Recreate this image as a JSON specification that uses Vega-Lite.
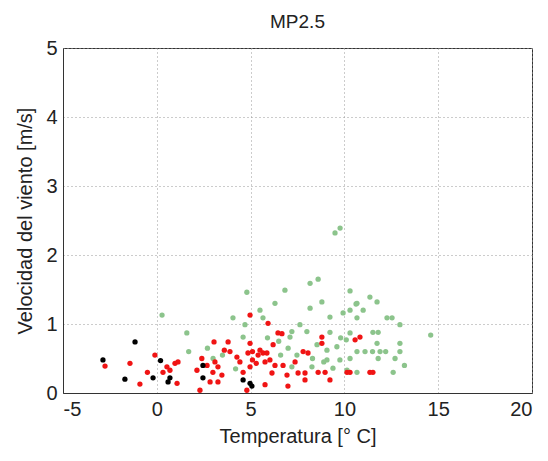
{
  "$schema": "https://vega.github.io/schema/vega-lite/v6.json",
  "width": 469,
  "height": 345,
  "autosize": "none",
  "padding": {"left": 63, "top": 48, "right": 16, "bottom": 68},
  "background": "white",
  "title": {"text": "MP2.5", "font": "Liberation Sans", "fontSize": 19, "fontWeight": "normal", "color": "#222", "offset": 6},
  "config": {
    "view": {"stroke": "#333", "strokeWidth": 1},
    "axis": {
      "labelFont": "Liberation Sans", "labelFontSize": 20, "labelColor": "#222",
      "titleFont": "Liberation Sans", "titleFontSize": 20, "titleFontWeight": "normal", "titleColor": "#222",
      "domainColor": "#333", "tickColor": "#333", "tickSize": 0,
      "gridColor": "#999", "gridDash": [1, 3], "gridWidth": 1
    }
  },
  "data": {"values": [
    {"x": 0.28, "y": 1.13, "g": "verde"}, {"x": 4.06, "y": 1.09, "g": "verde"}, {"x": 1.6, "y": 0.87, "g": "verde"},
    {"x": 4.7, "y": 0.99, "g": "verde"}, {"x": 1.7, "y": 0.6, "g": "verde"}, {"x": 4.6, "y": 0.81, "g": "verde"},
    {"x": 6.3, "y": 1.3, "g": "verde"}, {"x": 8.17, "y": 1.23, "g": "verde"}, {"x": 8.8, "y": 1.32, "g": "verde"},
    {"x": 5.5, "y": 1.2, "g": "verde"}, {"x": 9.23, "y": 1.1, "g": "verde"}, {"x": 9.93, "y": 1.16, "g": "verde"},
    {"x": 5.66, "y": 1.09, "g": "verde"}, {"x": 7.63, "y": 0.99, "g": "verde"}, {"x": 8.0, "y": 0.89, "g": "verde"},
    {"x": 7.2, "y": 0.89, "g": "verde"}, {"x": 7.1, "y": 0.81, "g": "verde"}, {"x": 9.23, "y": 0.88, "g": "verde"},
    {"x": 9.8, "y": 0.8, "g": "verde"}, {"x": 8.54, "y": 0.7, "g": "verde"}, {"x": 9.07, "y": 0.62, "g": "verde"},
    {"x": 9.6, "y": 0.67, "g": "verde"}, {"x": 10.1, "y": 0.77, "g": "verde"}, {"x": 7.47, "y": 0.55, "g": "verde"},
    {"x": 8.3, "y": 0.5, "g": "verde"}, {"x": 9.07, "y": 0.48, "g": "verde"}, {"x": 9.76, "y": 0.48, "g": "verde"},
    {"x": 7.2, "y": 0.38, "g": "verde"}, {"x": 8.27, "y": 0.38, "g": "verde"}, {"x": 9.39, "y": 0.36, "g": "verde"},
    {"x": 10.14, "y": 0.33, "g": "verde"}, {"x": 10.67, "y": 1.3, "g": "verde"}, {"x": 11.74, "y": 1.32, "g": "verde"},
    {"x": 10.3, "y": 1.2, "g": "verde"}, {"x": 11.0, "y": 1.2, "g": "verde"}, {"x": 10.67, "y": 1.09, "g": "verde"},
    {"x": 12.27, "y": 1.09, "g": "verde"}, {"x": 12.54, "y": 1.09, "g": "verde"}, {"x": 12.96, "y": 0.99, "g": "verde"},
    {"x": 14.6, "y": 0.84, "g": "verde"}, {"x": 11.52, "y": 0.88, "g": "verde"}, {"x": 11.8, "y": 0.88, "g": "verde"},
    {"x": 10.3, "y": 0.87, "g": "verde"}, {"x": 11.74, "y": 0.72, "g": "verde"}, {"x": 12.96, "y": 0.72, "g": "verde"},
    {"x": 10.67, "y": 0.6, "g": "verde"}, {"x": 11.1, "y": 0.6, "g": "verde"}, {"x": 11.5, "y": 0.6, "g": "verde"},
    {"x": 11.9, "y": 0.6, "g": "verde"}, {"x": 12.2, "y": 0.6, "g": "verde"}, {"x": 12.96, "y": 0.6, "g": "verde"},
    {"x": 10.3, "y": 0.5, "g": "verde"}, {"x": 11.8, "y": 0.5, "g": "verde"}, {"x": 12.7, "y": 0.5, "g": "verde"},
    {"x": 13.2, "y": 0.4, "g": "verde"}, {"x": 10.67, "y": 0.3, "g": "verde"}, {"x": 12.6, "y": 0.3, "g": "verde"},
    {"x": 9.5, "y": 2.32, "g": "verde"}, {"x": 9.77, "y": 2.39, "g": "verde"}, {"x": 8.17, "y": 1.59, "g": "verde"},
    {"x": 8.6, "y": 1.65, "g": "verde"}, {"x": 4.8, "y": 1.46, "g": "verde"}, {"x": 6.83, "y": 1.49, "g": "verde"},
    {"x": 10.3, "y": 1.48, "g": "verde"}, {"x": 11.36, "y": 1.39, "g": "verde"}, {"x": 10.62, "y": 1.29, "g": "verde"},
    {"x": 6.5, "y": 0.75, "g": "verde"}, {"x": 7.0, "y": 0.65, "g": "verde"}, {"x": 6.6, "y": 0.55, "g": "verde"},
    {"x": 5.9, "y": 0.8, "g": "verde"}, {"x": 8.9, "y": 0.45, "g": "verde"}, {"x": 3.0, "y": 0.5, "g": "verde"},
    {"x": 3.5, "y": 0.55, "g": "verde"}, {"x": 2.7, "y": 0.65, "g": "verde"}, {"x": 4.2, "y": 0.35, "g": "verde"},
    {"x": -2.76, "y": 0.39, "g": "rojo"}, {"x": -1.43, "y": 0.43, "g": "rojo"}, {"x": -0.9, "y": 0.13, "g": "rojo"},
    {"x": -0.1, "y": 0.55, "g": "rojo"}, {"x": -0.5, "y": 0.3, "g": "rojo"}, {"x": 0.33, "y": 0.3, "g": "rojo"},
    {"x": 0.54, "y": 0.38, "g": "rojo"}, {"x": 0.7, "y": 0.33, "g": "rojo"}, {"x": 0.97, "y": 0.43, "g": "rojo"},
    {"x": 1.13, "y": 0.45, "g": "rojo"}, {"x": 1.08, "y": 0.14, "g": "rojo"}, {"x": 2.4, "y": 0.5, "g": "rojo"},
    {"x": 2.68, "y": 0.4, "g": "rojo"}, {"x": 2.14, "y": 0.33, "g": "rojo"}, {"x": 3.1, "y": 0.45, "g": "rojo"},
    {"x": 3.26, "y": 0.38, "g": "rojo"}, {"x": 2.99, "y": 0.3, "g": "rojo"}, {"x": 3.47, "y": 0.26, "g": "rojo"},
    {"x": 2.84, "y": 0.16, "g": "rojo"}, {"x": 3.26, "y": 0.16, "g": "rojo"}, {"x": 2.3, "y": 0.04, "g": "rojo"},
    {"x": 3.05, "y": 0.74, "g": "rojo"}, {"x": 3.8, "y": 0.74, "g": "rojo"}, {"x": 3.6, "y": 0.62, "g": "rojo"},
    {"x": 3.9, "y": 0.6, "g": "rojo"}, {"x": 4.27, "y": 0.52, "g": "rojo"}, {"x": 4.43, "y": 0.45, "g": "rojo"},
    {"x": 4.86, "y": 0.58, "g": "rojo"}, {"x": 5.1, "y": 0.6, "g": "rojo"}, {"x": 4.6, "y": 0.3, "g": "rojo"},
    {"x": 4.97, "y": 0.38, "g": "rojo"}, {"x": 4.8, "y": 0.04, "g": "rojo"}, {"x": 4.97, "y": 1.13, "g": "rojo"},
    {"x": 5.93, "y": 1.01, "g": "rojo"}, {"x": 6.46, "y": 0.87, "g": "rojo"}, {"x": 6.67, "y": 0.86, "g": "rojo"},
    {"x": 8.8, "y": 0.81, "g": "rojo"}, {"x": 8.8, "y": 0.72, "g": "rojo"}, {"x": 4.97, "y": 0.72, "g": "rojo"},
    {"x": 6.2, "y": 0.7, "g": "rojo"}, {"x": 5.5, "y": 0.62, "g": "rojo"}, {"x": 5.66, "y": 0.58, "g": "rojo"},
    {"x": 5.4, "y": 0.55, "g": "rojo"}, {"x": 5.87, "y": 0.58, "g": "rojo"}, {"x": 5.1, "y": 0.48, "g": "rojo"},
    {"x": 5.3, "y": 0.43, "g": "rojo"}, {"x": 5.77, "y": 0.45, "g": "rojo"}, {"x": 6.03, "y": 0.48, "g": "rojo"},
    {"x": 6.3, "y": 0.4, "g": "rojo"}, {"x": 6.73, "y": 0.4, "g": "rojo"}, {"x": 7.8, "y": 0.6, "g": "rojo"},
    {"x": 8.06, "y": 0.58, "g": "rojo"}, {"x": 7.37, "y": 0.45, "g": "rojo"}, {"x": 6.14, "y": 0.29, "g": "rojo"},
    {"x": 7.53, "y": 0.29, "g": "rojo"}, {"x": 7.9, "y": 0.29, "g": "rojo"}, {"x": 8.6, "y": 0.3, "g": "rojo"},
    {"x": 8.97, "y": 0.3, "g": "rojo"}, {"x": 9.23, "y": 0.19, "g": "rojo"}, {"x": 7.9, "y": 0.19, "g": "rojo"},
    {"x": 6.94, "y": 0.26, "g": "rojo"}, {"x": 5.77, "y": 0.12, "g": "rojo"}, {"x": 6.99, "y": 0.1, "g": "rojo"},
    {"x": 10.83, "y": 0.81, "g": "rojo"}, {"x": 10.57, "y": 0.77, "g": "rojo"}, {"x": 10.14, "y": 0.3, "g": "rojo"},
    {"x": 10.3, "y": 0.3, "g": "rojo"}, {"x": 11.36, "y": 0.3, "g": "rojo"}, {"x": 11.52, "y": 0.3, "g": "rojo"},
    {"x": -2.87, "y": 0.48, "g": "negro"}, {"x": -1.16, "y": 0.74, "g": "negro"}, {"x": -1.7, "y": 0.2, "g": "negro"},
    {"x": -0.2, "y": 0.22, "g": "negro"}, {"x": 0.2, "y": 0.47, "g": "negro"}, {"x": 0.7, "y": 0.22, "g": "negro"},
    {"x": 0.6, "y": 0.16, "g": "negro"}, {"x": 2.46, "y": 0.4, "g": "negro"}, {"x": 2.46, "y": 0.22, "g": "negro"},
    {"x": 4.6, "y": 0.19, "g": "negro"}, {"x": 4.97, "y": 0.14, "g": "negro"}, {"x": 5.07, "y": 0.1, "g": "negro"}
  ]},
  "mark": {"type": "point", "filled": true, "size": 28, "opacity": 1},
  "encoding": {
    "x": {"field": "x", "type": "quantitative", "scale": {"domain": [-5, 20], "nice": false, "zero": false},
      "axis": {"values": [-5, 0, 5, 10, 15, 20], "labelExpr": "replace(datum.label, '−', '-')", "title": "Temperatura [° C]", "labelPadding": 6, "titlePadding": 7}},
    "y": {"field": "y", "type": "quantitative", "scale": {"domain": [0, 5], "nice": false},
      "axis": {"values": [0, 1, 2, 3, 4, 5], "title": "Velocidad del viento [m/s]", "labelPadding": 6, "titlePadding": 10}},
    "color": {"field": "g", "type": "nominal", "legend": null,
      "scale": {"domain": ["verde", "rojo", "negro"], "range": ["#8cc48c", "#f01414", "#000000"]}}
  }
}
